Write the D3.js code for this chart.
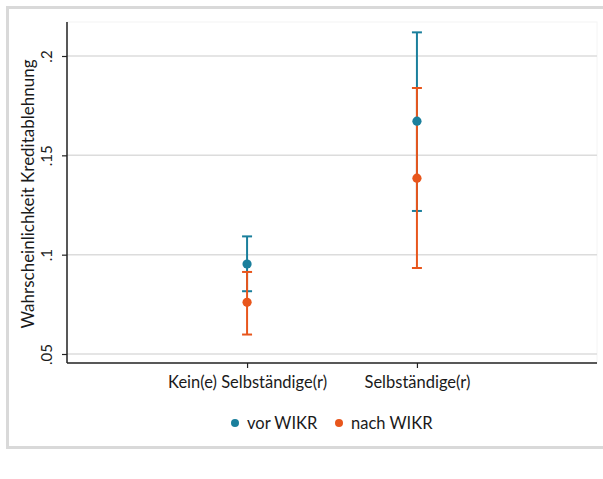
<!DOCTYPE html>
<html><head><meta charset="utf-8">
<script src="https://cdn.jsdelivr.net/npm/d3@7"></script>
<style>body{margin:0;background:#fff}svg{display:block}text{font-family:Lato,"Open Sans",sans-serif;fill:#1a1a1a}</style>
</head><body><svg id="c" width="603" height="479"></svg>
<script>
const categories = ["Kein(e) Selbständige(r)", "Selbständige(r)"];
const seriesNames = ["vor WIKR", "nach WIKR"];
const vorMean = [0.0953, 0.1672];
const vorLow = [0.0816, 0.1220];
const vorHigh = [0.1092, 0.2119];
const nachMean = [0.0760, 0.1385];
const nachLow = [0.0598, 0.0933];
const nachHigh = [0.0913, 0.1839];
const yTicks = [0.05, 0.1, 0.15, 0.2];
const yTickLabels = [".05", ".1", ".15", ".2"];
const colors = ["#1a7f9c", "#e8561c"];

const svg = d3.select("#c");
// outer frame
svg.append("rect").attr("x",7.5).attr("y",7.5).attr("width",610).attr("height",440)
  .attr("fill","none").attr("stroke","#d9d9d9").attr("stroke-width",3);

const L=67, R=597, T=22, B=363;
const y = d3.scaleLinear().domain([0.05,0.2]).range([354,56]);
const x = d3.scalePoint().domain(categories).range([L,R]).padding(1.06);

// plot region faint box
svg.append("rect").attr("x",L).attr("y",T).attr("width",R-L).attr("height",B-T)
  .attr("fill","none").attr("stroke","#f4f4f4").attr("stroke-width",1);

// grid
svg.append("g").selectAll("line").data(yTicks).join("line")
  .attr("x1",L).attr("x2",R).attr("y1",d=>y(d)).attr("y2",d=>y(d))
  .attr("stroke","#dcdcdc").attr("stroke-width",1.5);

// y axis
const ya = svg.append("g").attr("transform",`translate(${L},0)`)
  .call(d3.axisLeft(y).tickValues(yTicks).tickFormat((d,i)=>yTickLabels[i]).tickSize(5).tickPadding(4));
ya.select(".domain").attr("d",`M0,${T}V${B}`).attr("stroke","#222").attr("stroke-width",1.5);
ya.selectAll(".tick line").attr("stroke","#222").attr("stroke-width",1.2);
ya.selectAll(".tick text").attr("transform","rotate(-90)").attr("x",0).attr("y",-15)
  .attr("dy",0).attr("text-anchor","middle").style("font-size","15px").style("font-family","Lato, sans-serif").attr("fill","#1a1a1a");

// x axis
const xa = svg.append("g").attr("transform",`translate(0,${B})`)
  .call(d3.axisBottom(x).tickSize(5).tickPadding(8));
xa.select(".domain").attr("d",`M${L},0H${R}`).attr("stroke","#222").attr("stroke-width",1.5);
xa.selectAll(".tick line").attr("stroke","#222").attr("stroke-width",1.2);
xa.selectAll(".tick text").style("font-size","16.5px").style("font-family","Lato, sans-serif").attr("fill","#1a1a1a");

// y title
svg.append("text").attr("transform",`translate(34,194) rotate(-90)`)
  .attr("text-anchor","middle").style("font-size","17px").text("Wahrscheinlichkeit Kreditablehnung");

const series = [
  {name:seriesNames[0], mean:vorMean, lo:vorLow, hi:vorHigh, color:colors[0]},
  {name:seriesNames[1], mean:nachMean, lo:nachLow, hi:nachHigh, color:colors[1]}
];
const cap = 5;
series.forEach(s=>{
  const g = svg.append("g");
  categories.forEach((c,i)=>{
    const cx = x(c);
    g.append("line").attr("x1",cx).attr("x2",cx).attr("y1",y(s.lo[i])).attr("y2",y(s.hi[i]))
      .attr("stroke",s.color).attr("stroke-width",2);
    [s.lo[i], s.hi[i]].forEach(v=>{
      g.append("line").attr("x1",cx-cap).attr("x2",cx+cap).attr("y1",y(v)).attr("y2",y(v))
        .attr("stroke",s.color).attr("stroke-width",2);
    });
  });
});
series.forEach(s=>{
  svg.append("g").selectAll("circle").data(categories).join("circle")
    .attr("cx",d=>x(d)).attr("cy",(d,i)=>y(s.mean[i])).attr("r",4.6).attr("fill",s.color);
});

// legend
const legX = [235, 339];
series.forEach((s,i)=>{
  svg.append("circle").attr("cx",legX[i]).attr("cy",423).attr("r",4).attr("fill",s.color);
  svg.append("text").attr("x",legX[i]+12).attr("y",429).style("font-size","16.5px").text(s.name);
});
</script></body></html>
